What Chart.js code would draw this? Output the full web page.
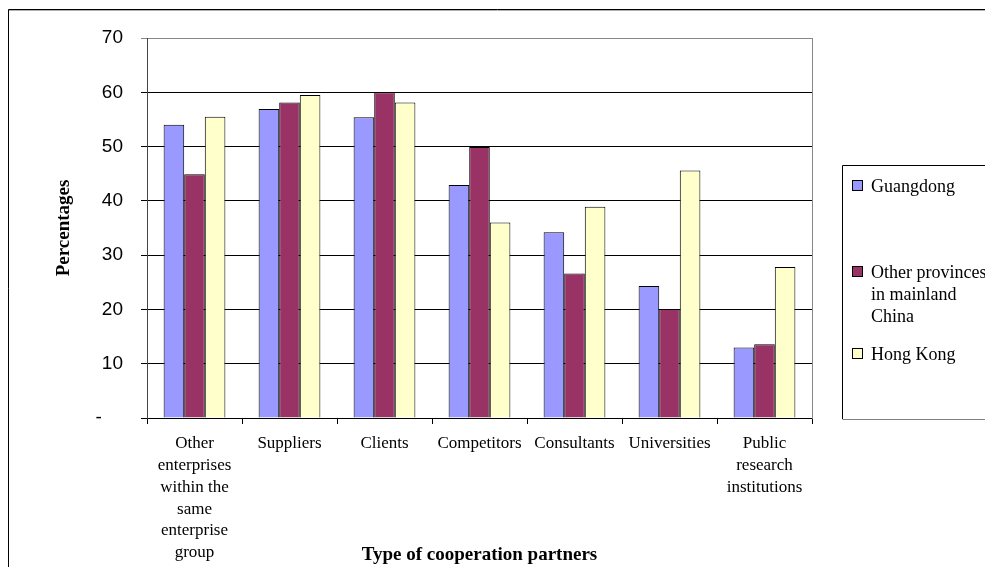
<!DOCTYPE html>
<html><head><meta charset="utf-8">
<script src="https://cdn.jsdelivr.net/npm/chart.js@4/dist/chart.umd.min.js"></script>
<style>html,body{margin:0;padding:0;background:#fff;} #wrap{width:985px;height:567px;position:relative;overflow:hidden;}</style>
</head><body><div id="wrap"><canvas id="c" width="985" height="567"></canvas></div>
<script>
const categories = [
  ['Other','enterprises','within the','same','enterprise','group'],
  ['Suppliers'], ['Clients'], ['Competitors'], ['Consultants'], ['Universities'],
  ['Public','research','institutions']
];
const seriesNames = ['Guangdong', 'Other provinces in mainland China', 'Hong Kong'];
const legendLines = [['Guangdong'], ['Other provinces', 'in mainland', 'China'], ['Hong Kong']];
const guangdong = [54.0, 56.9, 55.4, 42.9, 34.2, 24.3, 13.0];
const otherProvinces = [44.9, 58.1, 60.0, 49.9, 26.6, 20.1, 13.6];
const hongKong = [55.5, 59.5, 58.1, 36.0, 38.9, 45.6, 27.8];
const yTickLabels = ['-    ', '10', '20', '30', '40', '50', '60', '70'];
const seriesColors = ['#9999FF', '#993366', '#FFFFCC'];
const seriesValues = [guangdong, otherProvinces, hongKong];

const frame = {
  id: 'frame',
  beforeDraw(chart) {
    const ctx = chart.ctx;
    ctx.save();
    ctx.fillStyle = '#fff';
    ctx.fillRect(0, 0, chart.width, chart.height);
    ctx.strokeStyle = '#000';
    ctx.lineWidth = 1;
    ctx.beginPath();
    ctx.moveTo(8.5, chart.height + 5);
    ctx.lineTo(8.5, 9.5);
    ctx.lineTo(chart.width + 5, 9.5);
    ctx.stroke();
    ctx.strokeStyle = '#b0b0b0';
    ctx.beginPath();
    ctx.moveTo(9, 10.5);
    ctx.lineTo(chart.width + 5, 10.5);
    ctx.stroke();
    ctx.restore();
  }
};

const legendBox = {
  id: 'legendBox',
  afterDraw(chart) {
    const ctx = chart.ctx;
    ctx.save();
    ctx.lineWidth = 1;
    ctx.strokeStyle = '#000';
    ctx.beginPath();
    ctx.moveTo(842.5, 419);
    ctx.lineTo(842.5, 165.5);
    ctx.lineTo(chart.width + 5, 165.5);
    ctx.stroke();
    ctx.strokeStyle = '#808080';
    ctx.beginPath();
    ctx.moveTo(842.5, 419.5);
    ctx.lineTo(chart.width + 5, 419.5);
    ctx.stroke();
    const rows = [187, 273, 355];
    ctx.font = '18px "Liberation Serif"';
    ctx.textBaseline = 'middle';
    ctx.textAlign = 'left';
    chart.data.datasets.forEach((ds, i) => {
      const y = rows[i];
      ctx.fillStyle = ds.backgroundColor;
      ctx.fillRect(852.5, y - 6.5, 10, 10);
      ctx.strokeStyle = '#000';
      ctx.strokeRect(852.5, y - 6.5, 10, 10);
      ctx.fillStyle = '#000';
      legendLines[i].forEach((t, j) => ctx.fillText(t, 871, y + j * 22));
    });
    ctx.restore();
  }
};

new Chart(document.getElementById('c'), {
  type: 'bar',
  data: {
    labels: categories,
    datasets: seriesValues.map((vals, i) => ({
      label: seriesNames[i],
      data: vals,
      backgroundColor: seriesColors[i],
      borderColor: '#000',
      borderWidth: 1,
      categoryPercentage: 0.65,
      barPercentage: 1.0
    }))
  },
  options: {
    responsive: false,
    animation: false,
    devicePixelRatio: 1,
    layout: { autoPadding: false, padding: { left: 8, top: 38, right: 173, bottom: 0 } },
    plugins: { legend: { display: false }, tooltip: { enabled: false } },
    scales: {
      x: {
        grid: { offset: true, drawOnChartArea: false, drawTicks: true, tickLength: 6, color: '#000' },
        border: { color: '#000', width: 1 },
        ticks: { font: { family: '"Liberation Serif"', size: 17, lineHeight: 1.28 }, color: '#000', padding: 9, maxRotation: 0, autoSkip: false },
        title: { display: true, text: 'Type of cooperation partners', font: { family: '"Liberation Serif"', size: 19, weight: 'bold' }, color: '#000', padding: { top: 0, bottom: 1 } },
        afterFit(s) { s.height = 149; }
      },
      y: {
        min: 0, max: 70,
        ticks: { stepSize: 10, callback: (v) => yTickLabels[Math.round(v / 10)], font: { family: '"Liberation Sans"', size: 19 }, color: '#000', padding: 18 },
        grid: { color: (c) => (c.tick && c.tick.value === 70 ? '#888' : '#000'), tickLength: 6, drawTicks: true },
        border: { color: '#444' },
        title: { display: true, text: 'Percentages', font: { family: '"Liberation Serif"', size: 19, weight: 'bold' }, color: '#000', padding: { top: 45, bottom: 0 } },
        afterFit(s) { s.width = 139; }
      },
      yRight: {
        position: 'right', min: 0, max: 70,
        ticks: { display: false },
        grid: { drawOnChartArea: false, drawTicks: false },
        border: { color: '#888' },
        afterFit(s) { s.width = 0; }
      }
    }
  },
  plugins: [frame, legendBox]
});
</script>
</body></html>
